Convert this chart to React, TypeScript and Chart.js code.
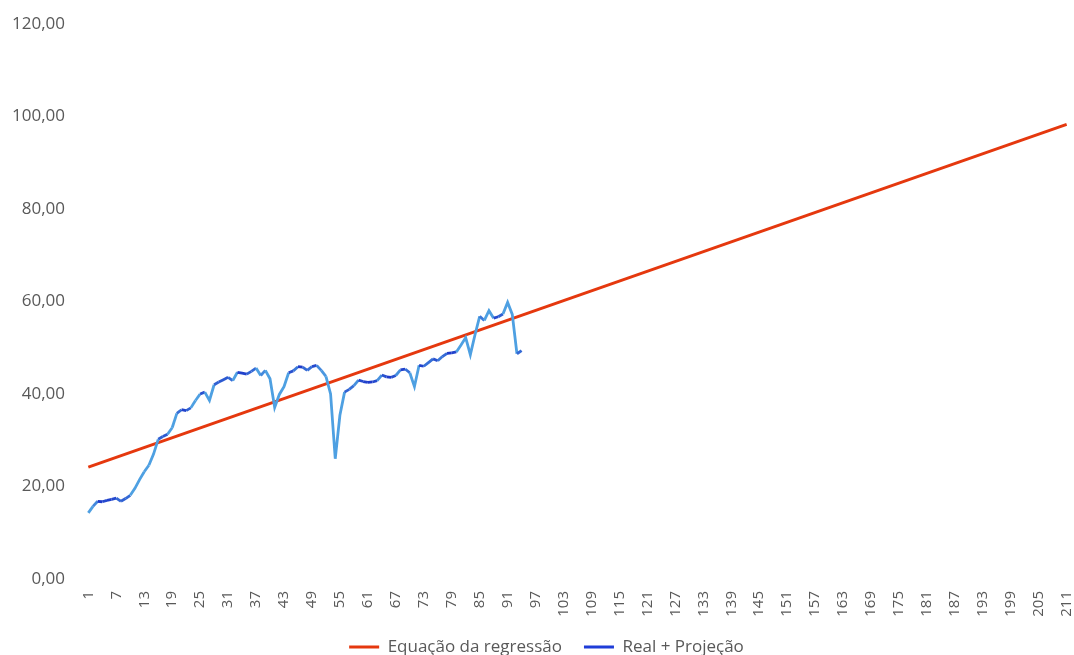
import React, { useEffect, useRef } from "react";
import { Chart, registerables } from "chart.js";

Chart.register(...registerables);

// Categories 1..211 (periods)
const categories: string[] = Array.from({ length: 211 }, (_, i) => String(i + 1));

// Tick label step shown on the x axis
const xLabelStep = 6;

// Regression line: value at first and last category
const regressionEnds: number[] = [24.2, 98.3];

// Real + Projeção values (categories 1..94)
const realValues: number[] = [
  14.3, 15.7, 16.8, 16.7, 17.0, 17.2, 17.5, 16.8, 17.4, 18.1,
  19.6, 21.5, 23.2, 24.6, 27.0, 30.2, 30.8, 31.3, 32.7, 35.8,
  36.6, 36.4, 37.0, 38.6, 40.0, 40.4, 38.6, 42.0, 42.6, 43.1,
  43.6, 42.9, 44.7, 44.5, 44.3, 44.9, 45.6, 44.0, 45.1, 43.3,
  37.1, 39.9, 41.6, 44.6, 45.0, 45.9, 45.8, 45.1, 45.9, 46.2,
  45.1, 43.8, 40.0, 26.0, 35.4, 40.4, 41.0, 41.8, 43.0, 42.7,
  42.5, 42.6, 42.9, 44.1, 43.7, 43.6, 44.0, 45.2, 45.4, 44.6,
  41.6, 46.2, 46.0, 46.8, 47.6, 47.2, 48.1, 48.8, 48.9, 49.1,
  50.6, 52.2, 48.5, 52.8, 56.8, 55.9, 58.0, 56.4, 56.7, 57.3,
  59.8, 57.2, 48.7, 49.4,
];

const yTicks = { min: 0, max: 120, step: 20 };

const FONT = "'Open Sans', 'Noto Sans', sans-serif";
const TEXT = "#595959";

const regressionData: (number | null)[] = categories.map((_, i) =>
  i === 0 ? regressionEnds[0] : i === categories.length - 1 ? regressionEnds[1] : null
);

const dark = [26, 50, 200];
const light = [78, 160, 226];
function segColor(ctx: any) {
  const dx = Math.abs(ctx.p1.x - ctx.p0.x) || 1;
  const dy = Math.abs(ctx.p1.y - ctx.p0.y);
  const t = Math.min(1, (dy / dx) / 1.4);
  const c = dark.map((d, k) => Math.round(d + (light[k] - d) * t));
  return `rgb(${c[0]},${c[1]},${c[2]})`;
}

// lets the axis labels extend outside the axis boxes without being clipped
const labelRoom = {
  id: "labelRoom",
  afterLayout(chart: any) {
    const x = chart.scales.x;
    if (x) x.bottom += 30;
    const y = chart.scales.y;
    if (y) y.left = 0;
  },
};

export default function App() {
  const ref = useRef<HTMLCanvasElement>(null);
  useEffect(() => {
    const canvas = ref.current;
    if (!canvas) return;
    const chart = new Chart(canvas, {
      type: "line",
      plugins: [labelRoom],
      data: {
        labels: categories,
        datasets: [
          {
            label: "Equação da regressão",
            data: regressionData,
            borderColor: "#E5380E",
            backgroundColor: "#E5380E",
            borderWidth: 3,
            pointRadius: 0,
            spanGaps: true,
            order: 1,
          },
          {
            label: "Real + Projeção",
            data: realValues,
            borderColor: "#1F3DD8",
            backgroundColor: "#1F3DD8",
            borderWidth: 2.8,
            pointRadius: 0,
            order: 0,
            segment: { borderColor: segColor },
          },
        ],
      },
      options: {
        animation: false,
        responsive: true,
        maintainAspectRatio: false,
        layout: { padding: { left: 19, right: 0, top: 24, bottom: -10.5 } },
        plugins: {
          legend: {
            position: "bottom",
            labels: {
              usePointStyle: true,
              pointStyle: "line",
              pointStyleWidth: 30,
              padding: 22,
              color: TEXT,
              font: { family: FONT, size: 17 },
              sort: (a: any, b: any) => a.datasetIndex - b.datasetIndex,
            },
          },
          tooltip: { enabled: false },
        },
        scales: {
          x: {
            offset: true,
            grid: { display: false, drawTicks: false },
            border: { display: false },
            ticks: {
              autoSkip: false,
              minRotation: 90,
              maxRotation: 90,
              padding: 12,
              color: TEXT,
              font: { family: FONT, size: 15 },
              callback: (_v: any, i: number) => (i % xLabelStep === 0 ? categories[i] : null),
            },
            afterFit: (s: any) => {
              s.height = 37.5;
              s.paddingLeft = 0;
              s.paddingRight = 5;
            },
          },
          y: {
            min: yTicks.min,
            max: yTicks.max,
            grid: { display: false, drawTicks: false },
            border: { display: false },
            ticks: {
              stepSize: yTicks.step,
              padding: 21,
              color: TEXT,
              font: { family: FONT, size: 17 },
              callback: (v: any) => Number(v).toFixed(2).replace(".", ","),
            },
            afterFit: (s: any) => {
              s.width = 67;
              s.paddingTop = 0;
              s.paddingBottom = 0;
            },
          },
        },
      },
    });
    return () => chart.destroy();
  }, []);
  return (
    <div style={{ position: "fixed", left: 0, top: 0, width: 1074, height: 655, background: "#fff" }}>
      <canvas ref={ref} />
    </div>
  );
}
